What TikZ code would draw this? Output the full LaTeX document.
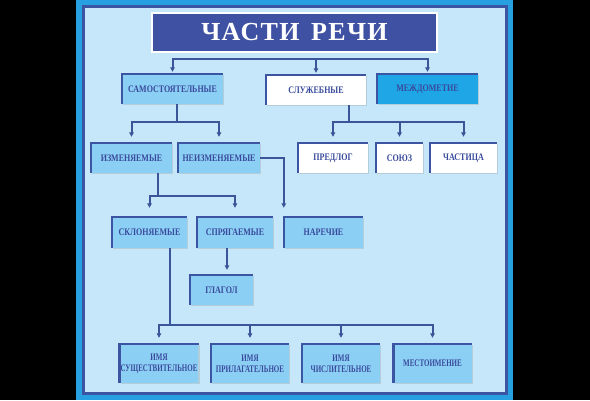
\documentclass[tikz,border=0pt]{standalone}
\usepackage{fontspec}
\setmainfont{Liberation Serif}
\newfontfamily\boxfont[FakeStretch=0.8]{Liberation Serif}
\newfontfamily\narrowfont[FakeStretch=0.7]{Liberation Serif}
\newfontfamily\titlefont[LetterSpace=5]{Liberation Serif}
\usetikzlibrary{positioning, calc, arrows.meta, shadows}

\definecolor{frameblue}{HTML}{27A0E2}
\definecolor{rimblue}{HTML}{3B55A2}
\definecolor{paleblue}{HTML}{C6E7FA}
\definecolor{boxblue}{HTML}{8CCFF4}
\definecolor{brightblue}{HTML}{1FA6E6}
\definecolor{inkblue}{HTML}{384A9C}
\definecolor{lineblue}{HTML}{3A5598}
\definecolor{titleblue}{HTML}{3F51A3}

\begin{document}
\begin{tikzpicture}[x=1pt, y=-1pt,
	box/.style={fill=boxblue, minimum height=30, inner sep=1pt, align=center, text=inkblue,
		font=\boxfont\bfseries\fontsize{10}{11}\selectfont,
		drop shadow={shadow xshift=1.2pt, shadow yshift=-1.2pt, opacity=.25}},
	namebox/.style={box, minimum width=78, minimum height=39,
		font=\narrowfont\bfseries\fontsize{10}{11}\selectfont},
	conn/.style={draw=lineblue, line width=2},
	arr/.style={conn, -{Triangle[length=4.5pt, width=4.5pt]}, shorten >=6}]

	% frame
	\useasboundingbox (0,0) rectangle (590,400);
	\fill[black] (0,0) rectangle (590,400);
	\fill[frameblue] (76,0) rectangle (513,400);
	\fill[rimblue] (82,5) rectangle (508,395);
	\fill[paleblue] (85,7.5) rectangle (505,392);

	\node[fill=titleblue, draw=white, line width=1.5, text=white, minimum width=285, minimum height=39,
		font=\titlefont\bfseries\fontsize{26}{26}\selectfont] (title) at (294.5,32.5) {ЧАСТИ\hspace{0.45em}РЕЧИ};

	\node[box, minimum width=101] (sam) at (172.5,89) {САМОСТОЯТЕЛЬНЫЕ};
	\node[box, minimum width=100, fill=white] (slu) at (316,90) {СЛУЖЕБНЫЕ};
	\node[box, minimum width=101, fill=brightblue] (mezh) at (427.5,89) {МЕЖДОМЕТИЕ};

	\node[box, minimum width=81] (izm) at (131.5,158) {ИЗМЕНЯЕМЫЕ};
	\node[box, minimum width=82] (neizm) at (219,158) {НЕИЗМЕНЯЕМЫЕ};
	\node[box, minimum width=70, fill=white] (predlog) at (333,158) {ПРЕДЛОГ};
	\node[box, minimum width=47, fill=white] (soyuz) at (399.5,158) {СОЮЗ};
	\node[box, minimum width=67, fill=white] (chast) at (463.5,158) {ЧАСТИЦА};

	\node[box, minimum width=75, minimum height=31] (sklon) at (149.5,232.5) {СКЛОНЯЕМЫЕ};
	\node[box, minimum width=76, minimum height=31] (spryag) at (235,232.5) {СПРЯГАЕМЫЕ};
	\node[box, minimum width=79, minimum height=31] (narech) at (323.5,232.5) {НАРЕЧИЕ};
	\node[box, minimum width=63] (glagol) at (221.5,290) {ГЛАГОЛ};

	\node[namebox] (sush) at (159,363.5) {ИМЯ\\СУЩЕСТВИТЕЛЬНОЕ};
	\node[namebox] (pril) at (250,363.5) {ИМЯ\\ПРИЛАГАТЕЛЬНОЕ};
	\node[namebox] (chisl) at (341,363.5) {ИМЯ\\ЧИСЛИТЕЛЬНОЕ};
	\node[namebox] (mest) at (432.5,363.5) {МЕСТОИМЕНИЕ};

	% dark top and left edges of the boxes
	\foreach \n in {sam, slu, mezh, izm, neizm, predlog, soyuz, chast, sklon, spryag, narech, glagol, sush, pril, chisl, mest} {
		\draw[rimblue, line width=2.5] (\n.south west) -- ([yshift=0.5]\n.north west);
		\draw[rimblue, line width=1.5] (\n.north west) -- (\n.north east);
	}

	% connectors
	\coordinate (b0) at (294,59);
	\foreach \t in {sam, slu, mezh} {
		\draw[arr, shorten >=2] (b0) -| (\t);
	}

	\coordinate (b1) at (177,122);
	\draw[conn] (sam.south -| b1) -- (b1);
	\foreach \t in {izm, neizm} {
		\draw[arr] (b1) -| (\t);
	}

	\coordinate (b2) at (349,122);
	\draw[conn] (slu.south -| b2) -- (b2);
	\foreach \t in {predlog, soyuz, chast} {
		\draw[arr] (b2) -| (\t);
	}

	\draw[arr, shorten >=9] (neizm.east) -| (narech.north west);

	\coordinate (b3) at (158,196);
	\draw[conn] (izm.south -| b3) -- (b3);
	\foreach \t in {sklon, spryag} {
		\draw[arr, shorten >=9] (b3) -| (\t);
	}

	\coordinate (g0) at (227,0);
	\draw[arr, shorten >=5] (spryag.south -| g0) -- (glagol.north -| g0);

	\coordinate (b4) at (170,325);
	\draw[conn] (sklon.south -| b4) -- (b4);
	\foreach \t in {sush, pril, chisl, mest} {
		\draw[arr] (b4) -| (\t);
	}

\end{tikzpicture}
\end{document}
